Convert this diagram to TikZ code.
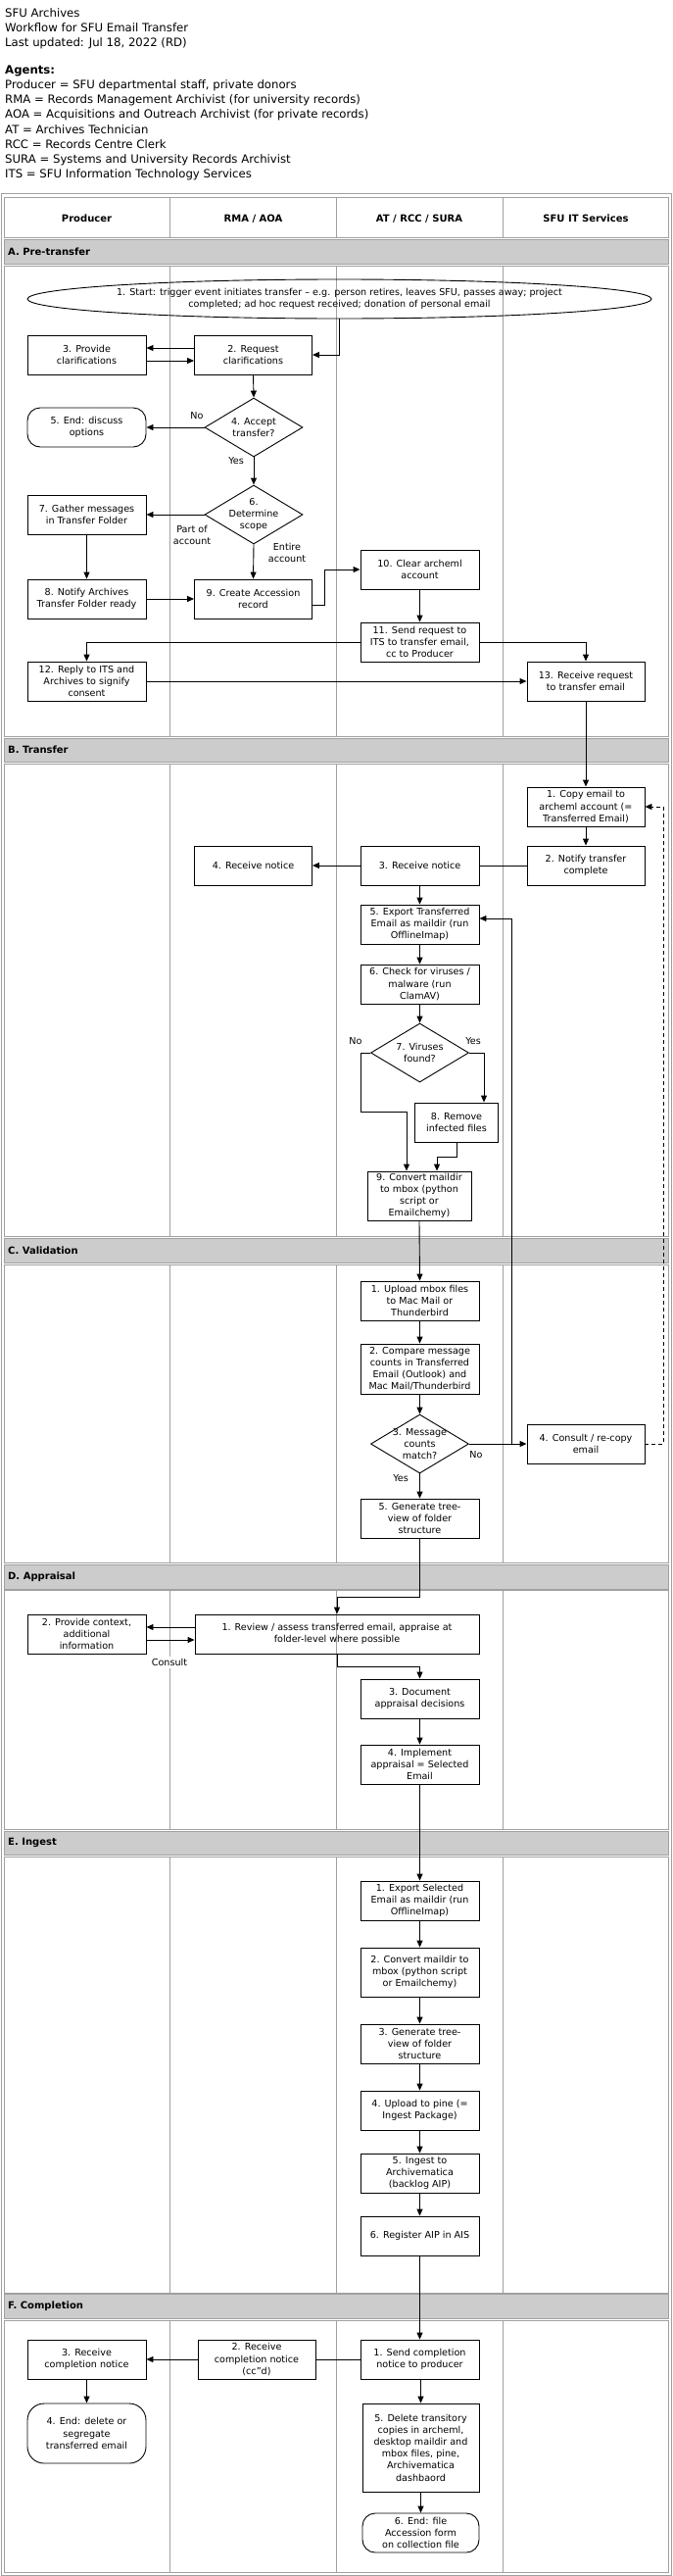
\documentclass[tikz,border=0pt]{standalone}
\usepackage{fontspec}
\setmainfont{DejaVu Sans}
\usetikzlibrary{arrows.meta,shapes.geometric,calc}
\definecolor{tgray}{HTML}{A0A0A0}
\definecolor{bandgray}{HTML}{CCCCCC}
\newcommand{\nf}{\fontsize{9.6}{12.2}\selectfont}
\newcommand{\hf}{\fontsize{11.7}{15}\selectfont}
\newcommand{\hb}{\fontsize{10}{12}\selectfont\bfseries}
\begin{document}
\begin{tikzpicture}[x=1pt,y=-1pt,
  tl/.style={draw=tgray, line width=1pt},
  bx/.style={draw, line width=0.9pt, align=center, inner sep=0pt, font=\nf, minimum width=121pt, minimum height=40pt},
  term/.style={bx, rounded corners=13pt},
  dia/.style={draw, diamond, line width=0.9pt, inner sep=0pt, minimum width=100pt, minimum height=60pt},
  lbl/.style={font=\nf, align=center, inner sep=1pt},
  arr/.style={line width=0.9pt, -{Triangle[length=7pt,width=6pt]}},
  ln/.style={line width=0.9pt},
  ht/.style={anchor=base west, font=\hf, inner sep=0pt},
]
\useasboundingbox (0,0) rectangle (686,2628);
\fill[white] (0,0) rectangle (686,2628);

% ---------- heading text ----------
\node[ht] (t1) at (5,17.5) {SFU Archives};
\node[ht] (t2) at (5,32.5) {Workflow for SFU Email Transfer};
\node[ht] (t3) at (5,47.5) {Last updated: Jul 18, 2022 (RD)};
\node[ht, font=\hf\bfseries] (t4) at (5,75.5) {Agents:};
\node[ht] (t5) at (5,91) {Producer = SFU departmental staff, private donors};
\node[ht] (t6) at (5,106) {RMA = Records Management Archivist (for university records)};
\node[ht] (t7) at (5,121) {AOA = Acquisitions and Outreach Archivist (for private records)};
\node[ht] (t8) at (5,136) {AT = Archives Technician};
\node[ht] (t9) at (5,151) {RCC = Records Centre Clerk};
\node[ht] (t10) at (5,166) {SURA = Systems and University Records Archivist};
\node[ht] (t11) at (5,181) {ITS = SFU Information Technology Services};

% ---------- table ----------
\draw[tl] (1,197.5) rectangle (685,2627.5);
\foreach \t/\b in {201/242.5, 271/751.5, 779/1261.5, 1290/1594, 1622.5/1866, 1894/2339, 2367/2624.5} {
  \draw[tl] (4,\t) rectangle (682,\b);
  \foreach \x in {173.5,343.5,513} \draw[tl] (\x,\t) -- (\x,\b);
}
\foreach \t/\b in {244/269, 753/777.5, 1263.5/1288, 1596/1621, 1868/1892.5, 2340.5/2365.5} {
  \draw[tl, fill=bandgray] (4,\t) rectangle (682,\b);
}
\node[font=\hb] (h1) at (88.5,223) {Producer};
\node[font=\hb] (h2) at (258.5,223) {RMA / AOA};
\node[font=\hb] (h3) at (428,223) {AT / RCC / SURA};
\node[font=\hb] (h4) at (598,223) {SFU IT Services};
\node[font=\hb, anchor=west, inner sep=0pt] (sA) at (8,256.5) {A. Pre-transfer};
\node[font=\hb, anchor=west, inner sep=0pt] (sB) at (8,765) {B. Transfer};
\node[font=\hb, anchor=west, inner sep=0pt] (sC) at (8,1276) {C. Validation};
\node[font=\hb, anchor=west, inner sep=0pt] (sD) at (8,1608.5) {D. Appraisal};
\node[font=\hb, anchor=west, inner sep=0pt] (sE) at (8,1880) {E. Ingest};
\node[font=\hb, anchor=west, inner sep=0pt] (sF) at (8,2353) {F. Completion};

% ---------- A. Pre-transfer ----------
\node[draw, ellipse, line width=0.9pt, minimum width=637pt, minimum height=40pt, inner sep=0pt] (a1) at (346.5,305) {};
\node[lbl] (a1t) at (a1) {1. Start: trigger event initiates transfer -- e.g. person retires, leaves SFU, passes away; project\\completed; ad hoc request received; donation of personal email};
\node[bx, minimum width=120pt] (a2) at (258.5,362) {2. Request\\clarifications};
\node[bx] (a3) at (88.5,362) {3. Provide\\clarifications};
\node[dia] (a4) at (259,436) {};
\node[lbl] (a4t) at (a4) {4. Accept\\transfer?};
\node[term] (a5) at (88.5,436) {5. End: discuss\\options};
\node[dia] (a6) at (259,525) {};
\node[lbl] (a6t) at (a6) {6.\\Determine\\scope};
\node[bx] (a7) at (88.5,525) {7. Gather messages\\in Transfer Folder};
\node[bx] (a8) at (88.5,611) {8. Notify Archives\\Transfer Folder ready};
\node[bx, minimum width=120pt] (a9) at (258.5,611) {9. Create Accession\\record};
\node[bx] (a10) at (428.5,581) {10. Clear archeml\\account};
\node[bx] (a11) at (428.5,655) {11. Send request to\\ITS to transfer email,\\cc to Producer};
\node[bx] (a12) at (88.5,695) {12. Reply to ITS and\\Archives to signify\\consent};
\node[bx, minimum width=120pt] (a13) at (598,695) {13. Receive request\\to transfer email};

\draw[arr] (a1.south) |- (a2.east);
\draw[arr] ([yshift=7pt]a2.west) -- ([yshift=7pt]a3.east);
\draw[arr] ([yshift=-6pt]a3.east) -- ([yshift=-6pt]a2.west);
\draw[arr] (a2.south) -- (a4.north);
\draw[arr] (a4.west) -- (a5.east);
\node[lbl] (lno1) at (201,424) {No};
\draw[arr] (a4.south) -- (a6.north);
\node[lbl] (lyes1) at (241,470) {Yes};
\draw[arr] (a6.west) -- (a7.east);
\node[lbl, fill=white, inner sep=2pt] (lpart) at (196,546) {Part of\\account};
\draw[arr] (a6.south) -- (a9.north);
\node[lbl] (lent) at (293,564) {Entire\\account};
\draw[arr] (a7.south) -- (a8.north);
\draw[arr] (a8.east) -- (a9.west);
\draw[arr] ([yshift=-6pt]a9.east) -- ++(12,0) |- (a10.west);
\draw[arr] (a10.south) -- (a11.north);
\draw[arr] (a11.west) -| (a12.north);
\draw[arr] (a11.east) -| (a13.north);
\draw[arr] (a12.east) -- (a13.west);

% ---------- B. Transfer ----------
\node[bx, minimum width=120pt] (b1) at (598,823) {1. Copy email to\\archeml account (=\\Transferred Email)};
\node[bx, minimum width=120pt] (b2) at (598,883) {2. Notify transfer\\complete};
\node[bx] (b3) at (428.5,883) {3. Receive notice};
\node[bx, minimum width=120pt] (b4) at (258.5,883) {4. Receive notice};
\node[bx] (b5) at (428.5,943) {5. Export Transferred\\Email as maildir (run\\OfflineImap)};
\node[bx] (b6) at (428.5,1004) {6. Check for viruses /\\malware (run\\ClamAV)};
\node[dia] (b7) at (428.5,1074) {};
\node[lbl] (b7t) at (b7) {7. Viruses\\found?};
\node[bx, minimum width=85pt] (b8) at (466,1145) {8. Remove\\infected files};
\node[bx, minimum width=106pt, minimum height=50pt] (b9) at (428,1220) {9. Convert maildir\\to mbox (python\\script or\\Emailchemy)};

\draw[arr] (a13.south) -- (b1.north);
\draw[arr] (b1.south) -- (b2.north);
\draw[ln] (b2.west) -- (b3.east);
\draw[arr] (b3.west) -- (b4.east);
\draw[arr] (b3.south) -- (b5.north);
\draw[arr] (b5.south) -- (b6.north);
\draw[arr] (b6.south) -- (b7.north);
\draw[arr] (b7.west) -| ++(-10,60) -| ([xshift=-13pt]b9.north);
\node[lbl] (lno2) at (363,1062) {No};
\draw[arr] (b7.east) -| ([xshift=28pt]b8.north);
\node[lbl] (lyes2) at (483,1062) {Yes};
\draw[arr] (b8.south) -- ++(0,15) -| ([xshift=18pt]b9.north);

% ---------- C. Validation ----------
\node[bx] (c1) at (428.5,1327) {1. Upload mbox files\\to Mac Mail or\\Thunderbird};
\node[bx, minimum height=51pt] (c2) at (428.5,1396.5) {2. Compare message\\counts in Transferred\\Email (Outlook) and\\Mac Mail/Thunderbird};
\node[dia] (c3) at (428.5,1473) {};
\node[lbl] (c3t) at (c3) {3. Message\\counts\\match?};
\node[bx, minimum width=120pt] (c4) at (598,1473) {4. Consult / re-copy\\email};
\node[bx] (c5) at (428.5,1549) {5. Generate tree-\\view of folder\\structure};
\coordinate (jn) at (522,1473);

\draw[arr] (b9.south) -- (c1.north);
\draw[arr] (c1.south) -- (c2.north);
\draw[arr] (c2.south) -- (c3.north);
\draw[arr] (c3.east) -- (c4.west);
\node[lbl] (lno3) at (486,1484) {No};
\draw[arr] (jn) |- ([yshift=6pt]b5.east);
\draw[arr, dash pattern=on 4pt off 3pt] (c4.east) -- ++(19,0) |- (b1.east);
\draw[arr] (c3.south) -- (c5.north);
\node[lbl] (lyes3) at (409,1508) {Yes};

% ---------- D. Appraisal ----------
\node[bx, minimum width=290pt] (d1) at (344,1667) {1. Review / assess transferred email, appraise at\\folder-level where possible};
\node[bx] (d2) at (88.5,1667) {2. Provide context,\\additional\\information};
\node[bx] (d3) at (428.5,1733) {3. Document\\appraisal decisions};
\node[bx] (d4) at (428.5,1800) {4. Implement\\appraisal = Selected\\Email};

\draw[arr] (c5.south) -- ++(0,60) -| (d1.north);
\draw[arr] ([yshift=7pt]d1.west) -- ([yshift=7pt]d2.east);
\draw[arr] ([yshift=-6pt]d2.east) -- ([yshift=-6pt]d1.west);
\node[lbl, fill=white, inner sep=2pt] (lcons) at (173,1696) {Consult};
\draw[arr] (d1.south) -- ++(0,13) -| (d3.north);
\draw[arr] (d3.south) -- (d4.north);

% ---------- E. Ingest ----------
\node[bx] (e1) at (428.5,1939) {1. Export Selected\\Email as maildir (run\\OfflineImap)};
\node[bx, minimum height=50pt] (e2) at (428.5,2012) {2. Convert maildir to\\mbox (python script\\or Emailchemy)};
\node[bx] (e3) at (428.5,2085) {3. Generate tree-\\view of folder\\structure};
\node[bx] (e4) at (428.5,2153) {4. Upload to pine (=\\Ingest Package)};
\node[bx] (e5) at (428.5,2217) {5. Ingest to\\Archivematica\\(backlog AIP)};
\node[bx] (e6) at (428.5,2281) {6. Register AIP in AIS};

\draw[arr] (d4.south) -- (e1.north);
\draw[arr] (e1.south) -- (e2.north);
\draw[arr] (e2.south) -- (e3.north);
\draw[arr] (e3.south) -- (e4.north);
\draw[arr] (e4.south) -- (e5.north);
\draw[arr] (e5.south) -- (e6.north);

% ---------- F. Completion ----------
\node[bx] (f1) at (428.5,2407) {1. Send completion\\notice to producer};
\node[bx, minimum width=120pt] (f2) at (262,2407) {2. Receive\\completion notice\\(cc”d)};
\node[bx] (f3) at (88.5,2407) {3. Receive\\completion notice};
\node[term, rounded corners=17pt, minimum height=61pt] (f4) at (88.5,2482.5) {4. End: delete or\\segregate\\transferred email};
\node[bx, minimum width=119pt, minimum height=90pt] (f5) at (429.5,2497) {5. Delete transitory\\copies in archeml,\\desktop maildir and\\mbox files, pine,\\Archivematica\\dashbaord};
\node[term, minimum width=119pt] (f6) at (429.5,2584) {6. End: file\\Accession form\\on collection file};

\draw[arr] (e6.south) -- (f1.north);
\draw[ln] (f1.west) -- (f2.east);
\draw[arr] (f2.west) -- (f3.east);
\draw[arr] (f3.south) -- (f4.north);
\draw[arr] (f1.south -| f5.north) -- (f5.north);
\draw[arr] (f5.south) -- (f6.north);
\end{tikzpicture}
\end{document}
